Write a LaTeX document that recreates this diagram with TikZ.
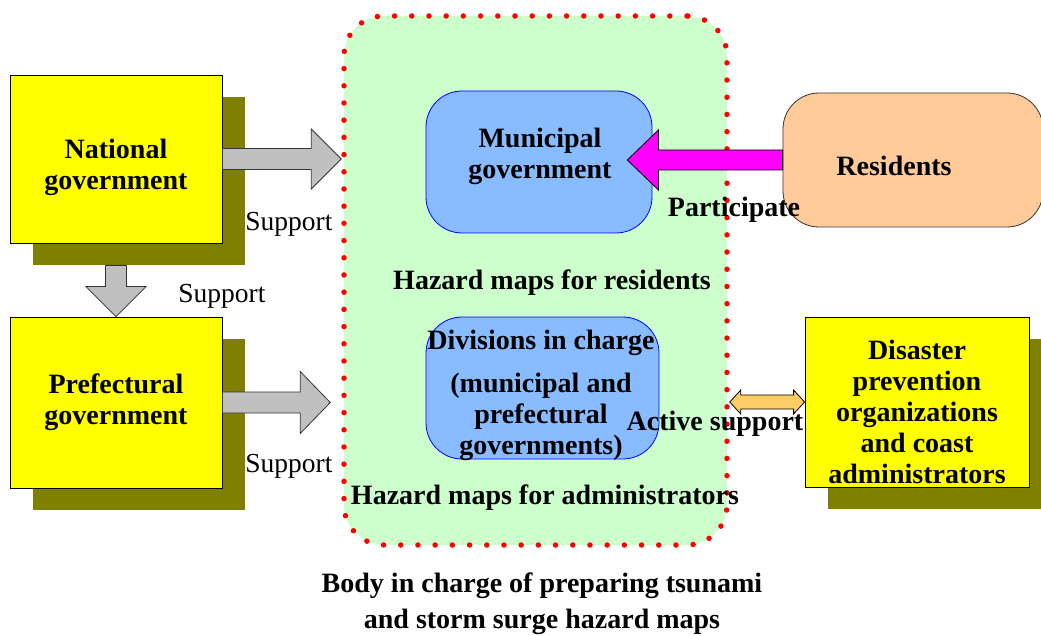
\documentclass[tikz,border=0pt]{standalone}
\usepackage{fontspec}
\setmainfont{Liberation Serif}
\usetikzlibrary{calc,shadows}

\definecolor{boxyellow}{HTML}{FFFF00}
\definecolor{shadowolive}{HTML}{808000}
\definecolor{arrowgray}{HTML}{C0C0C0}
\definecolor{bodygreen}{HTML}{CCFFCC}
\definecolor{divblue}{HTML}{88BBFF}
\definecolor{respeach}{HTML}{FFCC99}
\definecolor{activeorange}{HTML}{FFCC66}
\definecolor{partmagenta}{HTML}{FF00FF}

% block arrow: [style]{from}{tip}{shaft half width}{head half width}{head length}
\newcommand{\fatarrow}[6][]{%
  \coordinate (fa-h) at ($(#3)!#6!(#2)$);
  \draw[#1] ($(#2)!#4!90:(#3)$) -- ($(fa-h)!#4!90:(#3)$) -- ($(fa-h)!#5!90:(#3)$) -- (#3)
    -- ($(fa-h)!#5!-90:(#3)$) -- ($(fa-h)!#4!-90:(#3)$) -- ($(#2)!#4!-90:(#3)$) -- cycle;}
% same, with a head at both ends
\newcommand{\twowayarrow}[6][]{%
  \coordinate (ta-a) at ($(#2)!#6!(#3)$);
  \coordinate (ta-b) at ($(#3)!#6!(#2)$);
  \draw[#1] (#2) -- ($(ta-a)!#5!90:(#3)$) -- ($(ta-a)!#4!90:(#3)$) -- ($(ta-b)!#4!90:(#3)$)
    -- ($(ta-b)!#5!90:(#3)$) -- (#3) -- ($(ta-b)!#5!-90:(#3)$) -- ($(ta-b)!#4!-90:(#3)$)
    -- ($(ta-a)!#4!-90:(#3)$) -- ($(ta-a)!#5!-90:(#3)$) -- cycle;}

\begin{document}
\begin{tikzpicture}[x=1pt,y=-1pt,
    txt/.style={font=\fontsize{28}{31}\selectfont\bfseries,align=center,inner sep=0pt},
    suptxt/.style={font=\fontsize{27.5}{31}\selectfont,inner sep=0pt},
    govbox/.style={draw=black,line width=0.8pt,fill=boxyellow,txt,
      drop shadow={shadow xshift=23pt,shadow yshift=-22pt,fill=shadowolive,opacity=1}},
    divbox/.style={draw=blue,line width=0.8pt,fill=divblue,rounded corners=36pt},
    grayarrow/.style={draw=black!80,line width=0.8pt,fill=arrowgray}]
  \useasboundingbox (0,0) rectangle (1041,636);

  % body in charge
  \node[fill=bodygreen,rounded corners=40pt,minimum width=383,minimum height=529,
    draw=red,line width=5.5pt,line cap=round,dash pattern=on 0pt off 17.2pt] (body) at (535.5,280.5) {};
  \node[divbox,minimum width=226,minimum height=142] (muni) at (539,162) {};
  \node[divbox,minimum width=233,minimum height=142] (div) at (542.5,388) {};

  % outside bodies
  \node[govbox,minimum width=212,minimum height=168] (nat) at (116,159)
    {\rule{0pt}{37pt}National\\government};
  \node[govbox,minimum width=212,minimum height=171] (pref) at (116,402.5) {Prefectural\\government};
  \node[govbox,minimum width=224,minimum height=170] (dis) at (917,402)
    {\rule{0pt}{39pt}Disaster\\prevention\\organizations\\and coast\\administrators};
  \node[draw=black!80,line width=0.8pt,fill=respeach,rounded corners=36pt,
    minimum width=260,minimum height=134] (res) at (913,160) {};

  % arrows
  \coordinate (natTip) at (body.west |- nat.east);
  \coordinate (prefTip) at ($(body.west |- pref.east)+(-11,0)$);
  \coordinate (natFoot) at ($(nat.south)+(0,22)$);
  \coordinate (muniTip) at ($(muni.east |- res.west)+(-25,0)$);
  \coordinate (bodyEast) at (body.east |- dis.west);
  \fatarrow[grayarrow]{nat.east}{natTip}{10.5pt}{30pt}{30pt}
  \fatarrow[grayarrow]{natFoot}{pref.north}{10.5pt}{30pt}{30pt}
  \fatarrow[grayarrow]{pref.east}{prefTip}{10.5pt}{31pt}{30pt}
  \fatarrow[draw=black,line width=0.8pt,fill=partmagenta]{res.west}{muniTip}{10pt}{30pt}{31pt}
  \twowayarrow[draw=black,line width=0.8pt,fill=activeorange]{bodyEast}{dis.west}{7pt}{12pt}{11pt}

  % texts
  \node[txt] (munitxt) at (540,156) {Municipal\\government};
  \node[txt] (divtxt) at (541,395) {Divisions in charge\\[12pt](municipal and\\prefectural\\governments)};
  \node[txt] (restxt) at (894,166) {Residents};
  \node[txt] (hazres) at (552,283) {Hazard maps for residents};
  \node[txt] (hazadm) at (545,498) {Hazard maps for administrators};
  \node[txt] (part) at (734,210) {Participate};
  \node[txt] (active) at (715,424) {Active support};
  \node[suptxt] (sup1) at (289,224) {Support};
  \node[suptxt] (sup2) at (222,296) {Support};
  \node[suptxt] (sup3) at (289,466) {Support};
  \node[txt,font=\fontsize{28}{36}\selectfont\bfseries] (caption) at (542,604)
    {Body in charge of preparing tsunami\\and storm surge hazard maps};
\end{tikzpicture}
\end{document}
